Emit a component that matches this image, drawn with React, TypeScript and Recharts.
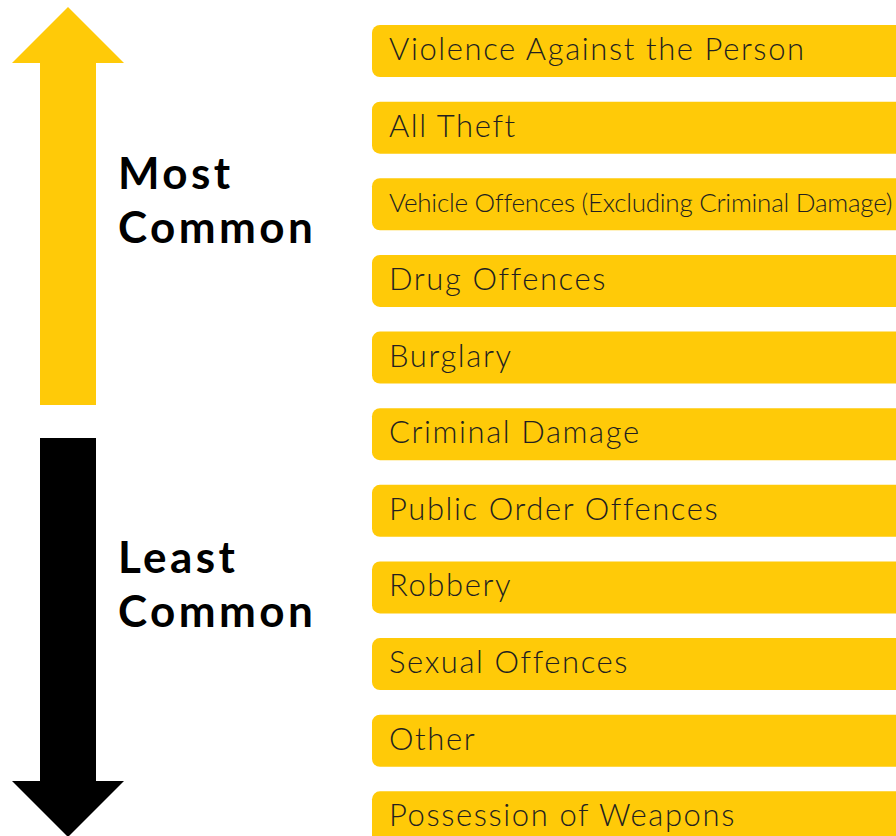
import { BarChart, Bar, XAxis, YAxis, LabelList, Customized } from 'recharts'

const YEL = '#FFCA08', INK = '#231F20'

const CATEGORIES = [
  'Violence Against the Person',
  'All Theft',
  'Vehicle Offences (Excluding Criminal Damage)',
  'Drug Offences',
  'Burglary',
  'Criminal Damage',
  'Public Order Offences',
  'Robbery',
  'Sexual Offences',
  'Other',
  'Possession of Weapons',
]
// every crime type gets the same full-width bar; order is the ranking
const BAR_VALUES = [1, 1, 1, 1, 1, 1, 1, 1, 1, 1, 1]
const TOP_LABEL = ['Most', 'Common']
const BOTTOM_LABEL = ['Least', 'Common']

const data = CATEGORIES.map((c, i) => ({ name: c, v: BAR_VALUES[i] }))

const Arrows = () => (
  <g>
    <polygon points="68,7 124,63 96,63 96,405 40,405 40,63 12,63" fill={YEL} />
    <polygon points="40,438 96,438 96,781 124,781 68,837 12,781 40,781" fill="#000" />
    <text fontFamily="Lato" fontWeight={700} fontSize={44} letterSpacing={3.4} fill="#000">
      <tspan x={118} y={189}>{TOP_LABEL[0]}</tspan>
      <tspan x={118} y={243}>{TOP_LABEL[1]}</tspan>
    </text>
    <text fontFamily="Lato" fontWeight={700} fontSize={44} letterSpacing={3.4} fill="#000">
      <tspan x={118} y={573}>{BOTTOM_LABEL[0]}</tspan>
      <tspan x={118} y={627}>{BOTTOM_LABEL[1]}</tspan>
    </text>
  </g>
)

const BarLabel = (p: any) => {
  const long = String(p.value).length > 30
  return (
    <text x={p.x + 17} y={p.y + p.height / 2 + (long ? 8 : 9)} fontFamily="Lato" fontWeight={300}
      fontSize={long ? 26 : 31} letterSpacing={long ? -0.25 : 1.6} fill={INK}>{p.value}</text>
  )
}

export default function App() {
  return (
    <div style={{ position: 'fixed', left: 0, top: 0, width: 896, height: 836, overflow: 'hidden', background: '#fff' }}>
      <BarChart width={930} height={870} data={data} layout="vertical" barSize={52}
        margin={{ top: 13, right: 0, bottom: 14, left: 0 }}>
        <XAxis type="number" hide domain={[0, 1]} />
        <YAxis type="category" dataKey="name" width={372} tick={false} axisLine={false} tickLine={false} />
        <Bar dataKey="v" fill={YEL} radius={8} isAnimationActive={false}>
          <LabelList dataKey="name" content={BarLabel} />
        </Bar>
        <Customized component={Arrows} />
      </BarChart>
    </div>
  )
}
